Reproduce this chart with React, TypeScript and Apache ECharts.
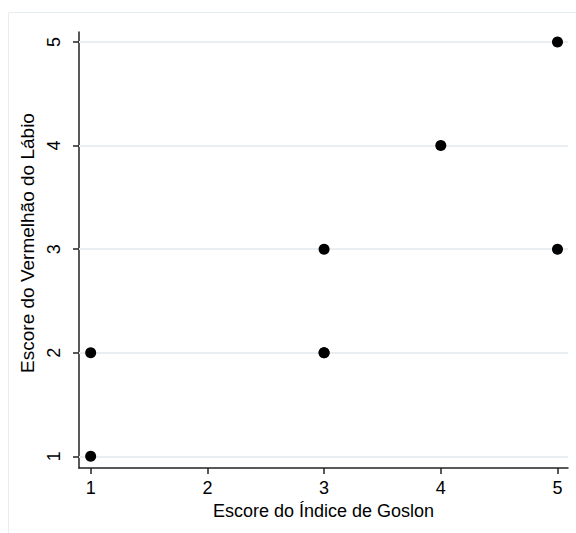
import React, { useEffect, useRef } from "react";
import * as echarts from "echarts";

const goslon = [1, 1, 3, 3, 3, 4, 5, 5];
const vermelhao = [1, 2, 2, 2, 3, 4, 5, 3];
const ticks = [1, 2, 3, 4, 5];
const xTitle = "Escore do Índice de Goslon";
const yTitle = "Escore do Vermelhão do Lábio";

const FONT = "Liberation Sans";

export default function App() {
  const ref = useRef<HTMLDivElement>(null);
  useEffect(() => {
    if (!ref.current) return;
    const chart = echarts.init(ref.current, undefined, { renderer: "svg" });
    const points = goslon.map((x, i) => [x, vermelhao[i]]);
    chart.setOption({
      animation: false,
      backgroundColor: "#ffffff",
      graphic: [
        {
          type: "rect",
          shape: { x: 8.5, y: 12.5, width: 620, height: 600 },
          style: { fill: "none", stroke: "#e6edf0", lineWidth: 1 },
          z: -1,
          silent: true,
        },
      ],
      grid: { left: 79, top: 32, width: 489, height: 436, containLabel: false },
      xAxis: {
        type: "value",
        min: 0.9,
        max: 5.09,
        name: xTitle,
        nameLocation: "middle",
        nameGap: 25,
        nameTextStyle: { fontFamily: FONT, fontSize: 18, color: "#000" },
        axisLine: { show: true, lineStyle: { color: "#222", width: 1.5 } },
        axisTick: { show: true, length: 6, customValues: ticks, lineStyle: { color: "#222", width: 1.5 } },
        axisLabel: { customValues: ticks, margin: 11, fontFamily: FONT, fontSize: 18, color: "#000" },
        splitLine: { show: false },
      },
      yAxis: {
        type: "value",
        min: 0.887,
        max: 5.097,
        name: yTitle,
        nameLocation: "middle",
        nameRotate: 90,
        nameGap: 32,
        nameTextStyle: { fontFamily: FONT, fontSize: 19, color: "#000", padding: [0, 0, 0, 14] },
        axisLine: { show: true, lineStyle: { color: "#222", width: 1.5 } },
        axisTick: { show: true, length: 6, customValues: ticks, lineStyle: { color: "#222", width: 1.5 } },
        axisLabel: { customValues: ticks, rotate: 90, margin: 16, fontFamily: FONT, fontSize: 18, color: "#000" },
        splitLine: { show: false },
      },
      series: [
        {
          type: "line",
          data: [],
          z: 1,
          silent: true,
          markLine: {
            silent: true,
            z: 1,
            symbol: "none",
            label: { show: false },
            lineStyle: { color: "#e8eef1", width: 2, type: "solid" },
            data: ticks.map((t) => ({ yAxis: t })),
          },
        },
        {
          type: "scatter",
          data: points,
          z: 10,
          symbol: "circle",
          symbolSize: 11,
          itemStyle: { color: "#000", opacity: 1 },
        },
      ],
    });
    return () => chart.dispose();
  }, []);
  return (
    <div
      ref={ref}
      style={{ position: "fixed", left: 0, top: 0, width: 576, height: 533 }}
    />
  );
}
